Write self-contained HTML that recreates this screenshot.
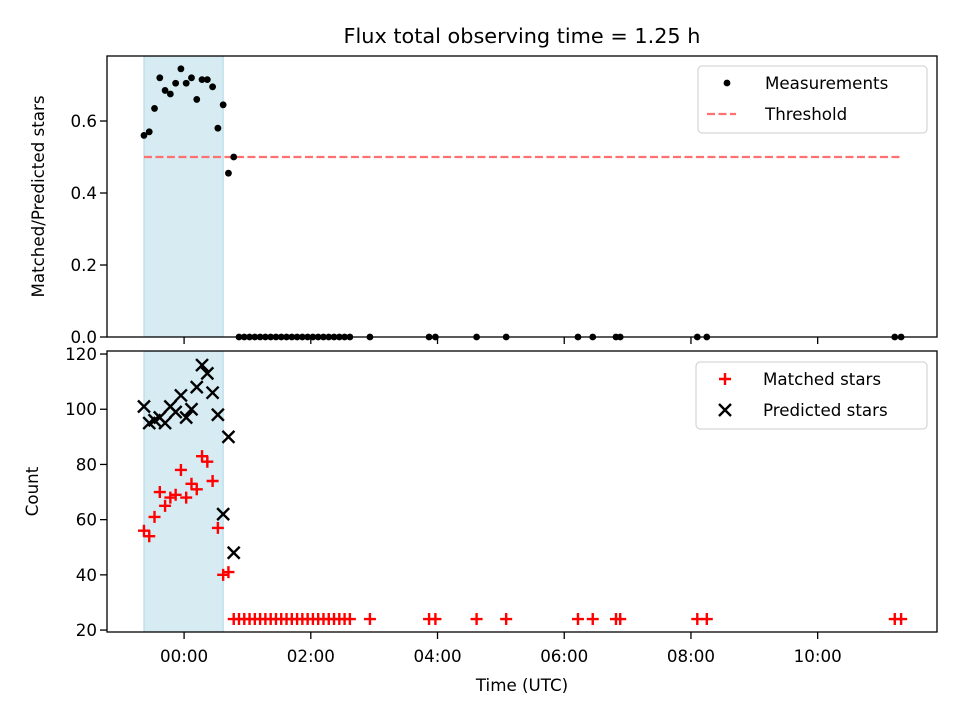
<!DOCTYPE html>
<html><head><meta charset="utf-8"><style>
body{margin:0;background:#fff}
svg{font-family:"DejaVu Sans","Liberation Sans",sans-serif}
</style></head><body>
<svg id="chart" width="960" height="720" viewBox="0 0 960 720">
<text x="522" y="43" font-size="20.8" text-anchor="middle">Flux total observing time = 1.25 h</text>
</svg>
<script>
// times in minutes from 00:00 UTC
const times = [-38,-33,-28,-23,-18,-13,-8,-3,2,7,12,17,22,27,32,37,42,47,52,57,62,67,72,77,82,87,92,97,102,107,112,117,122,127,132,137,142,147,152,157,176,232,238,277,305,373,387,409,413,486,495,673,679];
const ratio = [0.56,0.57,0.635,0.72,0.685,0.675,0.705,0.745,0.705,0.72,0.66,0.715,0.715,0.695,0.58,0.645,0.455,0.5,0,0,0,0,0,0,0,0,0,0,0,0,0,0,0,0,0,0,0,0,0,0,0,0,0,0,0,0,0,0,0,0,0,0,0];
const matched = [56,54,61,70,65,68,69,78,68,73,71,83,81,74,57,40,41,24,24,24,24,24,24,24,24,24,24,24,24,24,24,24,24,24,24,24,24,24,24,24,24,24,24,24,24,24,24,24,24,24,24,24,24];
const predicted = [101,95,96,97,95,101,99,105,97,100,108,116,113,106,98,62,90,48,0,0,0,0,0,0,0,0,0,0,0,0,0,0,0,0,0,0,0,0,0,0,0,0,0,0,0,0,0,0,0,0,0,0,0];
const threshold = 0.5;
const spanStart = -38, spanEnd = 37;
const xTicks = [0,120,240,360,480,600];
const xTickLabels = ["00:00","02:00","04:00","06:00","08:00","10:00"];
const topTicks = [0,0.2,0.4,0.6];
const botTicks = [20,40,60,80,100,120];

const NS="http://www.w3.org/2000/svg";
const svg=document.getElementById('chart');
function el(tag,attrs,parent){const e=document.createElementNS(NS,tag);for(const k in attrs)e.setAttribute(k,attrs[k]);(parent||svg).appendChild(e);return e;}
const X0=107,X1=937,xmin=-73,xmax=713;
const xs=v=>X0+(v-xmin)/(xmax-xmin)*(X1-X0);
const T0=56,T1=337,tmin=0,tmax=0.7806;
const ysT=v=>T1-(v-tmin)/(tmax-tmin)*(T1-T0);
const B0=351,B1=632,bmin=19.3,bmax=121.1;
const ysB=v=>B1-(v-bmin)/(bmax-bmin)*(B1-B0);
const FS=16.7;

const defs=el('defs',{});
const c1=el('clipPath',{id:'clipT'},defs);el('rect',{x:X0,y:T0-5,width:X1-X0,height:T1-T0+10},c1);
const c2=el('clipPath',{id:'clipB'},defs);el('rect',{x:X0,y:B0,width:X1-X0,height:B1-B0},c2);

let s=el('rect',{x:xs(spanStart),y:T0,width:xs(spanEnd)-xs(spanStart),height:T1-T0,fill:'#add8e6','fill-opacity':0.5,stroke:'#add8e6'});

s=el('rect',{x:xs(spanStart),y:B0,width:xs(spanEnd)-xs(spanStart),height:B1-B0,fill:'#add8e6','fill-opacity':0.5,stroke:'#add8e6'});


const th=el('line',{x1:xs(times[0]),x2:xs(times[times.length-1]),y1:ysT(threshold),y2:ysT(threshold),stroke:'#ff7070','stroke-width':2.2,'stroke-dasharray':'8,3.5'});


const gT=el('g',{'clip-path':'url(#clipT)'});

times.forEach((t,i)=>{const c=el('circle',{cx:xs(t),cy:ysT(ratio[i]),r:3.4,fill:'#000'},gT);
});

const gB=el('g',{'clip-path':'url(#clipB)'});

function plus(x,y,col,w,p){el('path',{d:`M${x-6} ${y}H${x+6}M${x} ${y-6}V${y+6}`,stroke:col,'stroke-width':w,fill:'none'},p);}
function cross(x,y,col,w,p){el('path',{d:`M${x-6} ${y-6}L${x+6} ${y+6}M${x-6} ${y+6}L${x+6} ${y-6}`,stroke:col,'stroke-width':w,fill:'none'},p);}
times.forEach((t,i)=>{const g=el('g',{},gB);plus(xs(t),ysB(matched[i]),'#f00',2.4,g);});
times.forEach((t,i)=>{const g=el('g',{},gB);cross(xs(t),ysB(predicted[i]),'#000',2.4,g);});

let f=el('rect',{x:X0,y:T0,width:X1-X0,height:T1-T0,fill:'none',stroke:'#000','stroke-width':1.3});

f=el('rect',{x:X0,y:B0,width:X1-X0,height:B1-B0,fill:'none',stroke:'#000','stroke-width':1.3});


xTicks.forEach((v,i)=>{const x=xs(v);
el('line',{x1:x,x2:x,y1:T1,y2:T1+7,stroke:'#000','stroke-width':1.3});
el('line',{x1:x,x2:x,y1:B1,y2:B1+7,stroke:'#000','stroke-width':1.3});
const t=el('text',{x:x,y:B1+30,'font-size':FS,'text-anchor':'middle'});t.textContent=xTickLabels[i];
});
topTicks.forEach(v=>{const y=ysT(v);el('line',{x1:X0-7,x2:X0,y1:y,y2:y,stroke:'#000','stroke-width':1.3});
const t=el('text',{x:X0-10,y:y+6,'font-size':FS,'text-anchor':'end'});t.textContent=v.toFixed(1);
});
botTicks.forEach(v=>{const y=ysB(v);el('line',{x1:X0-7,x2:X0,y1:y,y2:y,stroke:'#000','stroke-width':1.3});
const t=el('text',{x:X0-10,y:y+6,'font-size':FS,'text-anchor':'end'});t.textContent=v;
});

let t=el('text',{x:522,y:691,'font-size':FS,'text-anchor':'middle'});t.textContent='Time (UTC)';

t=el('text',{x:0,y:0,'font-size':FS,'text-anchor':'middle',transform:`translate(44,${(T0+T1)/2}) rotate(-90)`});t.textContent='Matched/Predicted stars';

t=el('text',{x:0,y:0,'font-size':FS,'text-anchor':'middle',transform:`translate(38,${(B0+B1)/2}) rotate(-90)`});t.textContent='Count';


function legend(y,x0,w,items,name){const g=el('g',{});
el('rect',{x:x0,y:y,width:w,height:67,rx:4,fill:'#fff',stroke:'#ccc','fill-opacity':0.8},g);
items.forEach((it,i)=>{const cy=y+17+i*31;const lx=x0+29;it.draw(lx,cy,g);
const tx=el('text',{x:x0+67,y:cy+6,'font-size':FS},g);tx.textContent=it.label;
});}
legend(66,698,229,[{label:'Measurements',draw:(x,y,g)=>el('circle',{cx:x,cy:y,r:3.4,fill:'#000'},g)},
{label:'Threshold',draw:(x,y,g)=>el('line',{x1:x-20,x2:x+9,y1:y,y2:y,stroke:'#ff7070','stroke-width':2.2,'stroke-dasharray':'8,3.5'},g)}],'top-legend');
legend(362,696,231,[{label:'Matched stars',draw:(x,y,g)=>plus(x,y,'#f00',2.4,g)},
{label:'Predicted stars',draw:(x,y,g)=>cross(x,y,'#000',2.4,g)}],'bottom-legend');
</script>
</body></html>
